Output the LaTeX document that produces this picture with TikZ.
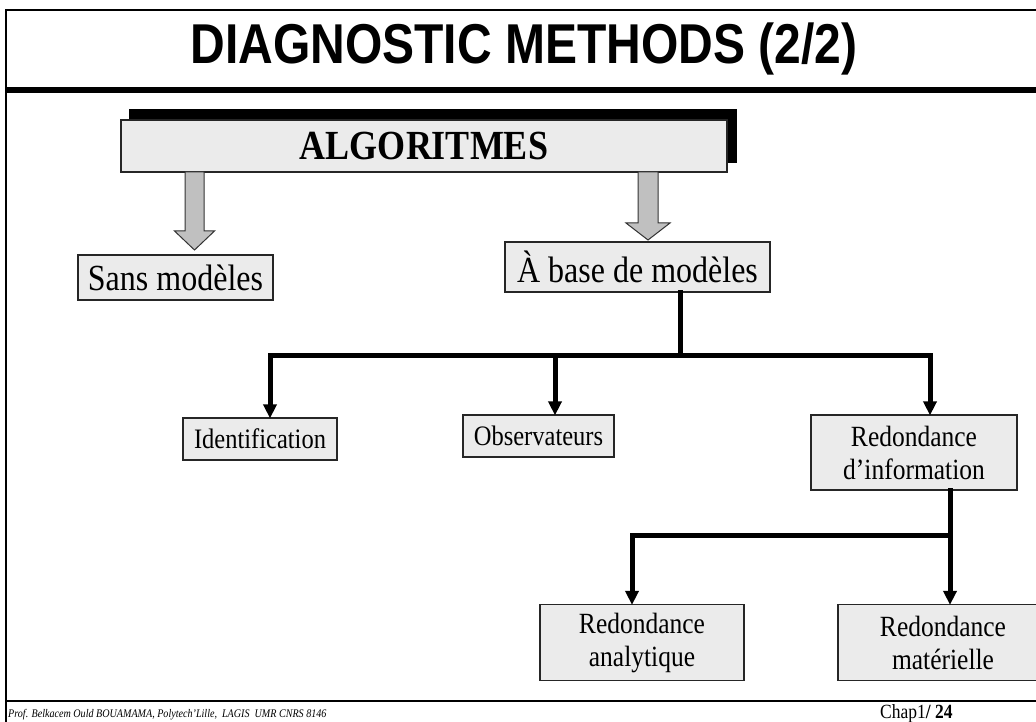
\documentclass[tikz,border=0pt]{standalone}
\usepackage{graphicx}
\usepackage{fontspec}
\setmainfont{Liberation Serif}
\newfontfamily\arialfont{Liberation Sans}
\usetikzlibrary{arrows.meta,backgrounds}
\definecolor{boxgray}{HTML}{EBEBEB}
\definecolor{arrowgray}{HTML}{C0C0C0}
\newcommand{\tall}[1]{\scalebox{1}[1.15]{#1}}
\tikzset{
  box/.style={draw=black!85, fill=boxgray, line width=1.2pt, inner sep=0pt, align=center,
    font=\fontsize{24.5}{33}\selectfont},
  bline/.style={line width=5pt, line join=miter, line cap=rect},
  barrow/.style={line width=5pt, line join=miter, -{Triangle[width=13pt,length=14pt]}, shorten >=-1pt},
  garrow/.style={draw=black!80, fill=arrowgray, line width=1pt, line join=miter},
}
\begin{document}
\begin{tikzpicture}[x=1pt,y=-1pt]
\useasboundingbox (0,0) rectangle (1036,722);
% frame
\draw[line width=2pt] (6,722) -- (6,10) -- (1036,10);
\draw[line width=5.5pt] (6,90) -- (1036,90);
\draw[line width=1.3pt] (6,701) -- (1036,701);
% title
\node[font=\arialfont\bfseries\fontsize{48}{56}\selectfont, inner sep=0pt] (title) at (524,49) {\scalebox{1}[1.17]{DIAGNOSTIC METHODS (2/2)}};
% main box with shadow
\node[box, minimum width=606pt, minimum height=52pt, font=\bfseries\fontsize{36}{42}\selectfont] (algo) at (424,146) {\tall{ALGORITMES}};
\begin{pgfonlayer}{background}
\fill[white] (0,0) rectangle (1036,722);
\fill[black] ([shift={(9,-10)}]algo.south west) rectangle ([shift={(9,-10)}]algo.north east);
\end{pgfonlayer}
% level 1
\node[box, minimum width=195pt, minimum height=45pt, font=\fontsize{32}{38}\selectfont] (sans) at (175.5,277.5) {\tall{Sans modèles}};
\node[box, minimum width=265pt, minimum height=50pt, font=\fontsize{32}{38}\selectfont] (abase) at (637.5,267) {\tall{À base de modèles}};
% gray block arrows
\draw[garrow] (185,172) -- (185,231) -- (174.5,231) -- (194.5,250) -- (214.5,231) -- (204,231) -- (204,172) -- cycle;
\draw[garrow] (638,172) -- (638,223) -- (626,223) -- (648,240) -- (670,223) -- (658,223) -- (658,172) -- cycle;
% level 2
\node[box, minimum width=154pt, minimum height=42pt] (ident) at (260,439) {\tall{Identification}};
\node[box, minimum width=151pt, minimum height=42pt] (obs) at (538.5,436) {\tall{Observateurs}};
\node[box, minimum width=206pt, minimum height=75pt, font=\fontsize{25.5}{33}\selectfont] (rinfo) at (914,452.5) {\tall{Redondance}\\\tall{d'information}};
% level 3
\node[box, minimum width=204pt, minimum height=76pt, font=\fontsize{25.5}{33}\selectfont] (ranal) at (642,642.5) {\tall{Redondance}\\\tall{analytique}};
\node[box, minimum width=210pt, minimum height=76pt, font=\fontsize{25.5}{33}\selectfont] (rmat) at (943,642.5) {\tall{Redondance}\\\tall{matérielle}};
% connectors
\coordinate (j1) at (680,355);
\draw[bline] (abase.south -| j1) -- (j1);
\draw[barrow] (j1) -| ([xshift=10pt]ident.north);
\draw[barrow] ([xshift=16.5pt]obs.north |- j1) -- ([xshift=16.5pt]obs.north);
\draw[barrow] (j1) -| ([xshift=16pt]rinfo.north);
\coordinate (j2) at (950,535);
\draw[bline] (rinfo.south -| j2) -- (j2);
\draw[barrow] (j2) -- (rmat.north -| j2);
\draw[barrow] (j2) -| ([xshift=-10pt]ranal.north);
% footer
\node[anchor=base west, font=\itshape\fontsize{10.1}{12}\selectfont, inner sep=0pt] (foot) at (8,717) {\tall{Prof. Belkacem Ould BOUAMAMA, Polytech'Lille,\ \ LAGIS\ \ UMR CNRS 8146}};
\node[anchor=base west, font=\fontsize{17.5}{20}\selectfont, inner sep=0pt] (chap) at (880,718) {\tall{Chap1\textbf{/ 24}}};
\end{tikzpicture}
\end{document}
